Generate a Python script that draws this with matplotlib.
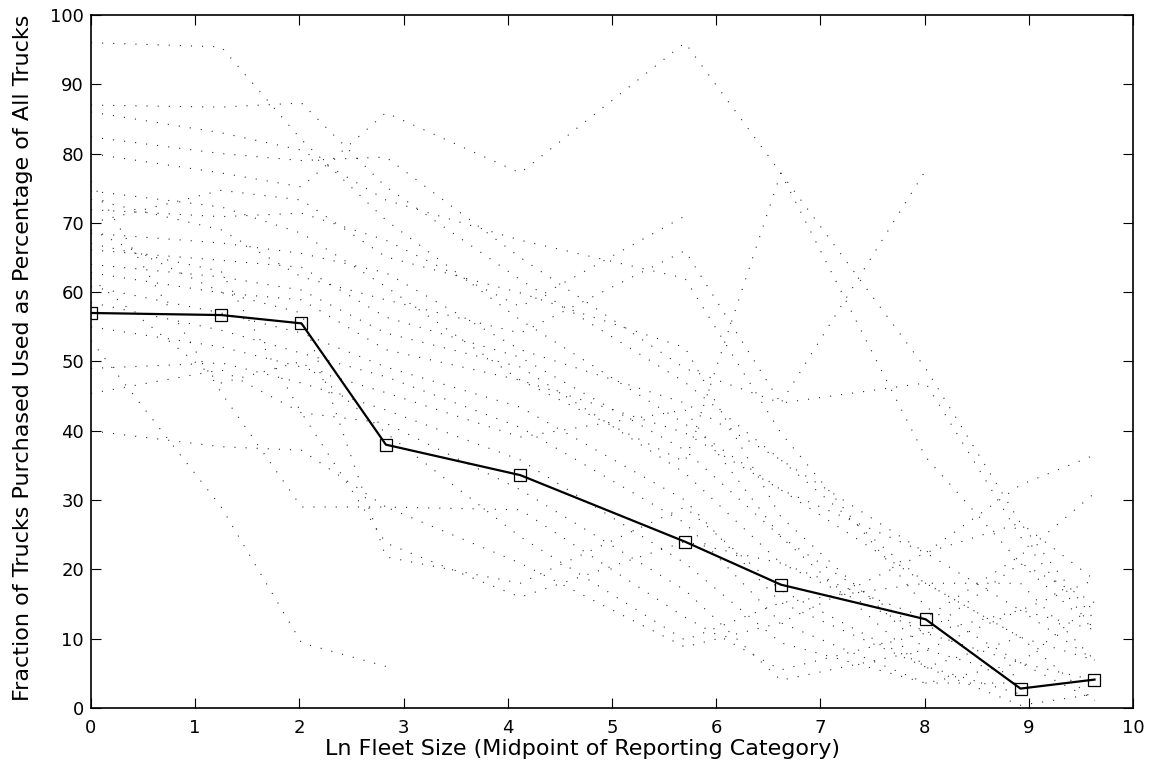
import numpy as np
import matplotlib
matplotlib.use("Agg")
import matplotlib.pyplot as plt

nan = np.nan

# Ln fleet size (midpoint of reporting category)
x_mid = [0.0, 1.25, 2.02, 2.83, 4.12, 5.70, 6.62, 8.01, 8.92, 9.63]

# Average fraction (solid line with squares)
avg_share = [57.0, 56.7, 55.5, 38.0, 33.6, 24.0, 17.8, 12.8, 2.8, 4.1]

# Individual series (dotted lines)
s01 = [96.0, 95.4, 82.0, 70.4, 56.0, 41.0, 31.5, 22.4, 14.1, 11.3]
s02 = [87.0, 86.7, 87.3, 75.2, 61.8, 47.0, 35.8, 18.0, 10.2, 6.9]
s03 = [80.0, 77.2, 75.2, 85.9, 77.2, 96.0, 77.2, 49.0, 26.7, 18.5]
s04 = [74.6, 72.3, 68.5, 60.8, 47.3, 35.5, 77.2, 36.2, 20.9, 15.2]
s05 = [73.4, 69.0, 62.2, 58.9, 54.1, 66.0, 44.0, 46.9, 24.7, 11.3]
s06 = [82.4, 80.0, 79.0, 79.5, 65.0, 49.0, 44.0, 77.6, nan, nan]
s07 = [71.9, 70.9, 71.4, 67.5, 57.9, 71.0, nan, nan, nan, nan]
s08 = [86.0, 83.0, 80.5, 73.3, 67.5, 62.0, 39.7, 14.6, 6.5, 1.1]
s09 = [70.0, 74.7, 73.3, 65.1, 59.9, 52.0, 27.6, 8.4, 4.5, nan]
s10 = [68.5, 67.1, 65.6, 62.8, 51.7, 44.0, 35.8, 22.4, 32.2, 36.5]
s11 = [66.1, 64.6, 63.6, 56.4, 50.6, 37.2, 24.7, 10.8, 14.1, 18.5]
s12 = [64.0, 62.2, 60.3, 54.1, 49.2, 33.9, 20.9, 13.0, 22.0, 31.0]
s13 = [62.8, 59.9, 58.9, 51.7, 47.3, 39.7, 31.5, 18.0, 18.0, 6.9]
s14 = [60.8, 57.0, 54.1, 49.2, 43.4, 30.0, 15.2, 5.9, 10.2, 1.1]
s15 = [58.5, 54.5, 51.2, 47.8, 40.5, 26.7, 12.3, 3.6, 3.6, nan]
s16 = [55.0, 52.1, 49.2, 45.5, 39.1, 43.0, 24.7, 5.9, 0.4, 2.0]
s17 = [53.0, 29.0, 9.4, 6.0, nan, nan, nan, nan, nan, nan]
s18 = [49.0, 49.8, 46.9, 43.0, 35.8, 20.9, 9.4, 3.6, 6.5, 15.2]
s19 = [45.4, 48.8, 42.6, 41.1, 31.5, 17.0, 4.0, 8.4, 14.1, 6.9]
s20 = [40.0, 37.7, 37.2, 29.0, 28.6, 13.1, 5.5, 10.8, 20.9, 11.3]
s21 = [62.0, 46.9, 50.0, 39.7, 24.7, 9.8, 15.2, 18.0, 10.2, nan]
s22 = [76.0, 45.5, 29.0, 29.0, 20.9, 8.8, 12.3, 22.4, 26.7, 12.7]
s23 = [67.0, 63.0, 42.6, 23.8, 16.0, 24.0, 20.9, 10.8, 6.5, 4.0]
s24 = [69.0, 60.0, 57.0, 21.8, 18.0, 29.0, 17.0, 6.0, 2.0, nan]

series = [s01, s02, s03, s04, s05, s06, s07, s08, s09, s10, s11, s12,
          s13, s14, s15, s16, s17, s18, s19, s20, s21, s22, s23, s24]

x_ticks = list(range(0, 11))
y_ticks = list(range(0, 101, 10))

plt.rcParams['font.family'] = ['DejaVu Sans']

fig = plt.figure(figsize=(11.53, 7.64), dpi=100)
ax = fig.add_axes([0.0789, 0.0733, 0.9038, 0.9071])

for s in series:
    ax.plot(x_mid, s, color='#2a2a2a', linewidth=0.8,
            linestyle=(0, (1, 9)), dash_capstyle='butt')

ax.plot(x_mid, avg_share, color='black', linewidth=1.6, marker='s',
        markersize=8, markerfacecolor='none', markeredgecolor='black',
        markeredgewidth=0.9)

ax.set_xlim(0, 10)
ax.set_ylim(0, 100)
ax.set_xticks(x_ticks)
ax.set_yticks(y_ticks)
ax.tick_params(direction='in', length=7, width=0.8, top=True, right=True,
               labelsize=13)
ax.tick_params(axis='x', pad=8)
ax.tick_params(axis='y', pad=5)
for sp in ax.spines.values():
    sp.set_linewidth(1.2)

ax.set_xlabel('Ln Fleet Size (Midpoint of Reporting Category)', fontsize=16)
ax.set_ylabel('Fraction of Trucks Purchased Used as Percentage of All Trucks',
              fontsize=16)
ax.xaxis.set_label_coords(0.4717, -0.0447)
ax.yaxis.set_label_coords(-0.0557, 0.5058)

fig.savefig('out.png', dpi=100)
